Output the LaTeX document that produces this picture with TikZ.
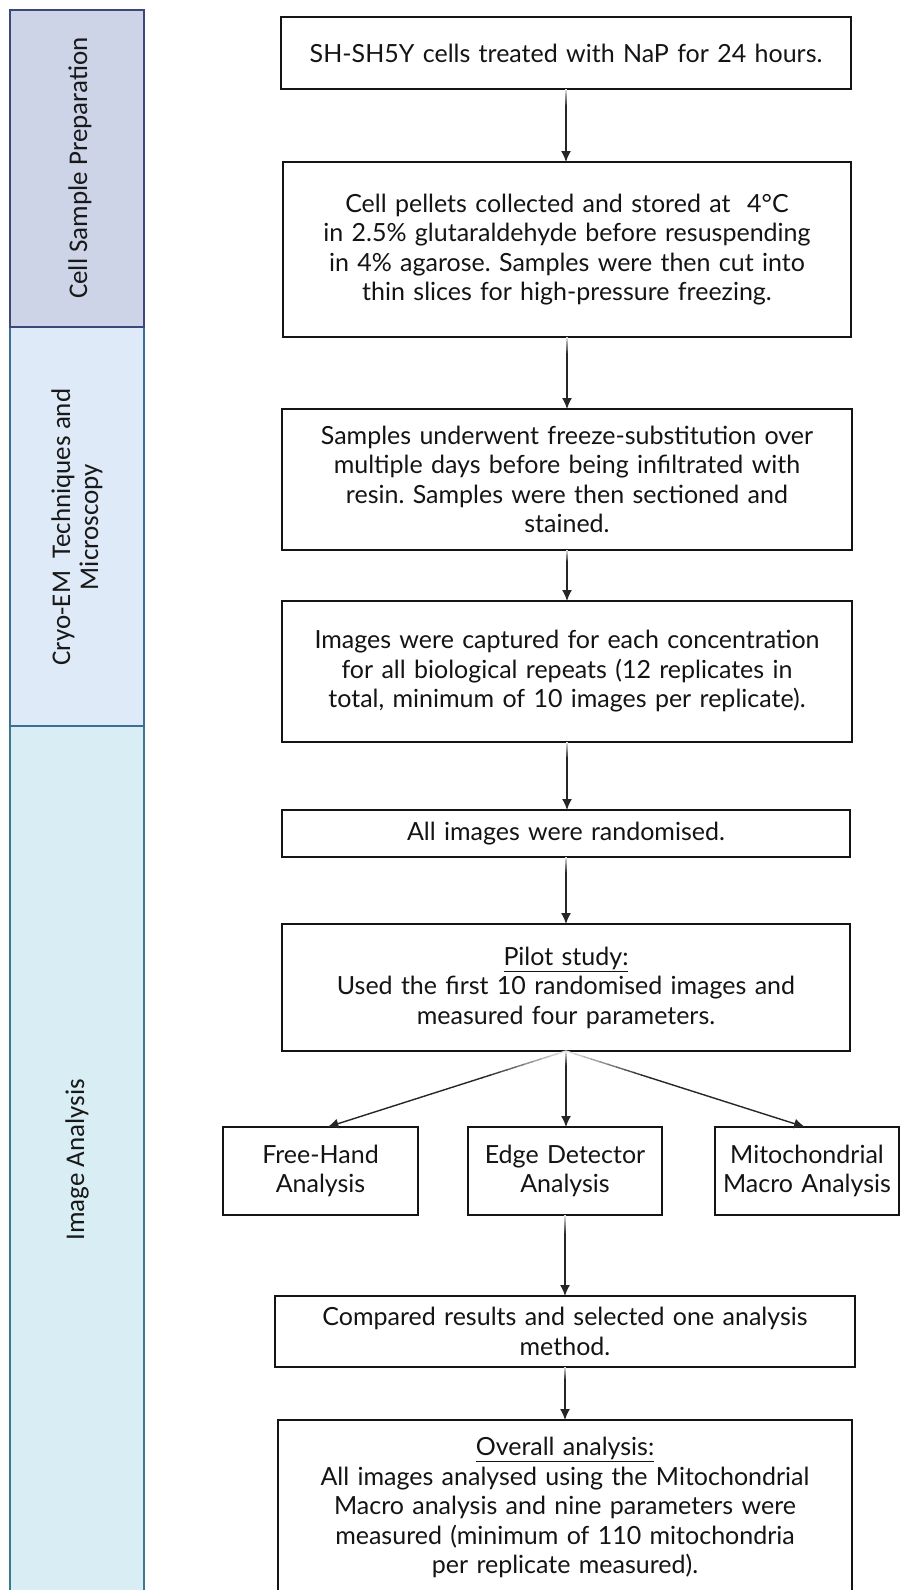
\documentclass[tikz,border=0pt]{standalone}
\usepackage{fontspec}
\setmainfont{Lato}
\newfontfamily\barfont{Carlito}
\usetikzlibrary{arrows.meta,calc}
\frenchspacing
\definecolor{barAfill}{HTML}{CDD4E8}
\definecolor{barAdraw}{HTML}{3B4878}
\definecolor{barBfill}{HTML}{DEEAF7}
\definecolor{barBdraw}{HTML}{3C6F95}
\definecolor{barCfill}{HTML}{D9EEF4}
\definecolor{barCdraw}{HTML}{3B7A8C}
\newcommand{\fadeconn}[3]{%
  \foreach \i in {0,...,9}{%
    \pgfmathsetmacro{\fsA}{#3*\i/10}%
    \pgfmathsetmacro{\fsB}{#3*(\i+1)/10+0.003}%
    \pgfmathtruncatemacro{\fcc}{12+8*\i}%
    \draw[conn, draw=black!\fcc] ($(#1)!\fsA!(#2)$) -- ($(#1)!\fsB!(#2)$);
  }%
  \draw[conn, -{Latex[length=11pt,width=10pt]}] ($(#1)!#3!(#2)$) -- (#2);
}
\begin{document}
\frenchspacing
\begin{tikzpicture}[x=1pt,y=-1pt,
  box/.style={draw=black!92, line width=1.6pt, fill=white, inner sep=0pt, outer sep=0pt,
    align=center, font=\fontsize{25}{29.5}\selectfont, text=black!92},
  bar/.style={line width=1.8pt},
  conn/.style={line width=1.4pt, draw=black!85, line cap=butt},
  barlabel/.style={rotate=90, align=center, font=\barfont\fontsize{27}{28}\selectfont, text=black!90}
]
\useasboundingbox (0,0) rectangle (901,1590);
\clip (0,0) rectangle (901,1590);

% side bars
\draw[bar, fill=barCfill, draw=barCdraw] (10,726) rectangle (144,1620);
\draw[bar, fill=barBfill, draw=barBdraw] (10,327) rectangle (144,726);
\draw[bar, fill=barAfill, draw=barAdraw] (10,10) rectangle (144,327);
\node[barlabel] (lA) at (80,168) {Cell Sample Preparation};
\node[barlabel] (lB) at (77,527) {Cryo-EM\ \ Techniques and\\Microscopy};
\node[barlabel] (lC) at (77,1160) {Image Analysis};

% main boxes
\node[box, text width=570pt, minimum height=72pt] (b1) at (566,53)
  {SH-SH5Y cells treated with NaP for 24 hours.};
\node[box, text width=568pt, minimum height=175pt] (b2) at (567,249.5)
  {Cell pellets collected and stored at\ \ 4°C\\in 2.5\% glutaraldehyde before resuspending\\in 4\% agarose. Samples were then cut into\\thin slices for high-pressure freezing.};
\node[box, text width=570pt, minimum height=141pt] (b3) at (567,479.5)
  {Samples underwent freeze-substitution over\\multiple days before being infiltrated with\\resin. Samples were then sectioned and\\stained.};
\node[box, text width=570pt, minimum height=141pt] (b4) at (567,671.5)
  {Images were captured for each concentration\\for all biological repeats (12 replicates in\\total, minimum of 10 images per replicate).};
\node[box, text width=568pt, minimum height=47pt] (b5) at (566,833.5)
  {All images were randomised.};
\node[box, text width=568pt, minimum height=127pt] (b6) at (566,987.5)
  {\underline{Pilot study:}\\Used the first 10 randomised images and\\measured four parameters.};
\node[box, text width=195pt, minimum height=88pt] (fh) at (320.5,1171)
  {Free-Hand\\Analysis};
\node[box, text width=194pt, minimum height=88pt] (ed) at (565,1171)
  {Edge Detector\\Analysis};
\node[box, text width=184pt, minimum height=88pt] (mm) at (807,1171)
  {Mitochondrial\\Macro Analysis};
\node[box, text width=580pt, minimum height=71pt] (b7) at (565,1331.5)
  {Compared results and selected one analysis\\method.};
\node[box, text width=574pt, minimum height=175pt] (b8) at (565,1507.5)
  {\underline{Overall analysis:}\\All images analysed using the Mitochondrial\\Macro analysis and nine parameters were\\measured (minimum of 110 mitochondria\\per replicate measured).};

% connectors
\coordinate (t2) at (b1.south |- b2.north);
\coordinate (t3) at (b2.south |- b3.north);
\coordinate (t4) at (b3.south |- b4.north);
\coordinate (t5) at (b4.south |- b5.north);
\coordinate (t6) at (b5.south |- b6.north);
\coordinate (tfh) at ($(fh.north)+(7,0)$);
\coordinate (ted) at (b6.south |- ed.north);
\coordinate (tmm) at ($(mm.north)+(-2,0)$);
\coordinate (s7) at (ed.south);
\coordinate (t7) at (ed.south |- b7.north);
\coordinate (s8) at (b7.south);
\coordinate (t8) at (b7.south |- b8.north);
\fadeconn{b1.south}{t2}{0.25}
\fadeconn{b2.south}{t3}{0.25}
\fadeconn{b3.south}{t4}{0.25}
\fadeconn{b4.south}{t5}{0.25}
\fadeconn{b5.south}{t6}{0.25}
\fadeconn{b6.south}{tfh}{0.35}
\fadeconn{b6.south}{ted}{0.2}
\fadeconn{b6.south}{tmm}{0.35}
\fadeconn{s7}{t7}{0.25}
\fadeconn{s8}{t8}{0.25}
\end{tikzpicture}
\end{document}
